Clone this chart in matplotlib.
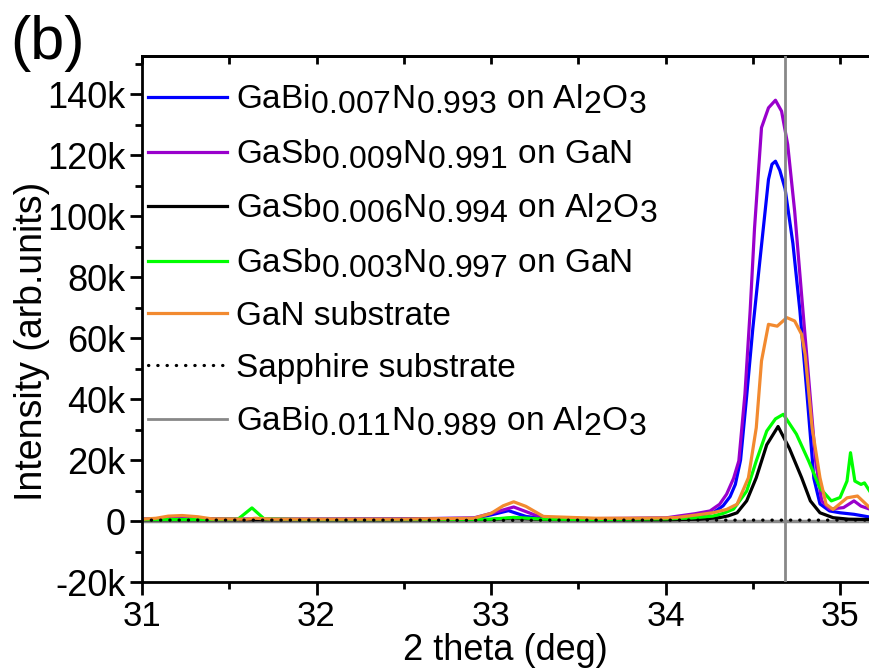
import matplotlib
matplotlib.use("Agg")
import matplotlib.pyplot as plt
import matplotlib._mathtext as mathtext_internal
from matplotlib.ticker import MultipleLocator, FuncFormatter

plt.rcParams['font.family'] = ['Liberation Sans', 'DejaVu Sans']
plt.rcParams['mathtext.fontset'] = 'custom'
plt.rcParams['mathtext.rm'] = 'Liberation Sans'
plt.rcParams['mathtext.it'] = 'Liberation Sans'
# subscripts in the original are nearly full size
mathtext_internal.SHRINK_FACTOR = 0.96

# --- data (2 theta in deg, intensity in k counts) ---
bi007_x = [31.0, 31.2, 31.6, 32.0, 32.5, 32.9, 33.0, 33.1, 33.2, 33.3, 33.6, 34.0,
           34.10, 34.20, 34.28, 34.33, 34.37, 34.40, 34.43, 34.465, 34.50, 34.54,
           34.59, 34.61, 34.63, 34.655, 34.685, 34.73, 34.77, 34.81, 34.85, 34.885,
           34.94, 35.0, 35.08, 35.17]
bi007_y = [0.6, 0.7, 0.6, 0.6, 0.7, 0.9, 2.0, 3.4, 1.5, 0.8, 0.7, 0.9,
           1.1, 1.8, 3.0, 5.0, 8.0, 12, 20, 41, 63, 85,
           112, 117, 118, 115, 109, 91, 69, 42, 14, 5.6,
           3.3, 2.7, 2.2, 1.3]

sb009_x = [31.0, 31.2, 31.6, 32.0, 32.5, 32.9, 33.0, 33.13, 33.25, 33.35, 33.6, 34.0,
           34.07, 34.17, 34.255, 34.31, 34.35, 34.39, 34.42, 34.455, 34.485, 34.51,
           34.55, 34.59, 34.63, 34.665, 34.70, 34.74, 34.78, 34.82, 34.86, 34.895,
           34.94, 35.02, 35.08, 35.12, 35.17]
sb009_y = [0.6, 0.8, 0.6, 0.6, 0.7, 1.0, 2.5, 4.6, 2.0, 0.9, 0.8, 1.0,
           1.6, 2.4, 3.3, 5.5, 8.8, 14, 19.7, 41.6, 69, 96,
           129, 135.5, 138, 134.4, 123.5, 101.6, 74, 47, 19.7, 6.6,
           3.9, 4.4, 6.6, 4.9, 3.9]

sb006_x = [31.0, 31.6, 32.0, 32.5, 33.0, 33.13, 33.3, 33.6, 34.0, 34.2, 34.31, 34.36,
           34.41, 34.465, 34.52, 34.58, 34.645, 34.71, 34.78, 34.83, 34.885, 34.96,
           35.05, 35.17]
sb006_y = [0.4, 0.4, 0.4, 0.4, 0.5, 1.0, 0.5, 0.4, 0.4, 0.6, 1.1, 1.7,
           2.7, 6.6, 14.2, 25, 31, 23.8, 14.2, 6.6, 2.7, 1.1,
           0.6, 0.5]

sb003_x = [31.0, 31.3, 31.55, 31.63, 31.70, 31.9, 32.5, 33.0, 33.13, 33.3, 33.6, 34.0,
           34.15, 34.27, 34.33, 34.39, 34.465, 34.52, 34.58, 34.63, 34.675, 34.75,
           34.82, 34.885, 34.95, 35.0, 35.04, 35.06, 35.085, 35.12, 35.14, 35.17]
sb003_y = [0.5, 0.5, 0.6, 4.3, 0.7, 0.5, 0.5, 0.6, 1.2, 0.6, 0.5, 0.7,
           1.0, 1.6, 2.5, 3.9, 9.8, 19.7, 29.5, 33.5, 35, 28.5,
           19.7, 10.8, 6.6, 7.7, 13.1, 22.4, 13.1, 12, 12.5, 9.8]

gan_x = [31.0, 31.08, 31.15, 31.23, 31.32, 31.40, 31.6, 31.65, 31.75, 32.0, 32.5, 32.9,
         33.0, 33.07, 33.13, 33.2, 33.3, 33.45, 33.6, 33.8, 34.0, 34.07, 34.18, 34.27,
         34.35, 34.41, 34.475, 34.52, 34.55, 34.59, 34.64, 34.695, 34.74, 34.78, 34.80,
         34.84, 34.885, 34.92, 34.96, 35.04, 35.10, 35.17]
gan_y = [0.6, 0.9, 1.6, 1.8, 1.4, 0.7, 0.6, 0.9, 0.6, 0.6, 0.6, 0.9,
         2.5, 5.0, 6.3, 4.8, 1.5, 1.2, 0.9, 0.9, 1.0, 1.2, 2.0, 2.7,
         3.8, 5.5, 14.2, 30.6, 52.5, 64.5, 63.9, 66.7, 65.6, 61.2, 54.6,
         30.6, 14.2, 5.5, 3.8, 7.6, 8.2, 4.4]

sapphire_x = [31.0, 31.5, 32.0, 32.5, 33.0, 33.5, 34.0, 34.5, 35.0, 35.17]
sapphire_y = [0.3, 0.3, 0.3, 0.3, 0.2, 0.3, 0.3, 0.3, 0.3, 0.3]

bi011_peak = 34.685   # grey reference sample, peak position (deg)

labels = [r'GaBi$_{0.007}$N$_{0.993}$ on Al$_2$O$_3$',
          r'GaSb$_{0.009}$N$_{0.991}$ on GaN',
          r'GaSb$_{0.006}$N$_{0.994}$ on Al$_2$O$_3$',
          r'GaSb$_{0.003}$N$_{0.997}$ on GaN',
          'GaN substrate',
          'Sapphire substrate',
          r'GaBi$_{0.011}$N$_{0.989}$ on Al$_2$O$_3$']

fig = plt.figure(figsize=(8.69, 6.68), dpi=100)
ax = fig.add_axes([142 / 869, 86 / 668, 727 / 869, 526 / 668])

lw = 2.3
ax.axhline(0, color='#888888', lw=2.5, zorder=1)
h_bi007, = ax.plot(bi007_x, [v * 1000 for v in bi007_y], color='#0000ff', lw=lw)
h_sb009, = ax.plot(sb009_x, [v * 1000 for v in sb009_y], color='#9900cc', lw=lw)
h_sb006, = ax.plot(sb006_x, [v * 1000 for v in sb006_y], color='black', lw=lw)
h_sb003, = ax.plot(sb003_x, [v * 1000 for v in sb003_y], color='#00ff00', lw=lw)
h_gan, = ax.plot(gan_x, [v * 1000 for v in gan_y], color='#f28a30', lw=lw)
h_sap, = ax.plot(sapphire_x, [v * 1000 for v in sapphire_y], color='black', lw=lw,
                 linestyle=(0, (0.1, 2.8)), dash_capstyle='round')
h_bi011 = ax.axvline(bi011_peak, color='#888888', lw=2.0, zorder=5)

ax.set_xlim(31, 35.166)
ax.set_ylim(-20000, 152500)

ax.xaxis.set_major_locator(MultipleLocator(1))
ax.xaxis.set_minor_locator(MultipleLocator(0.5))
ax.yaxis.set_major_locator(MultipleLocator(20000))
ax.yaxis.set_minor_locator(MultipleLocator(10000))
ax.yaxis.set_major_formatter(FuncFormatter(lambda v, p: '0' if v == 0 else f'{int(round(v / 1000))}k'))

ax.tick_params(which='major', direction='out', length=9, width=2)
ax.tick_params(which='minor', direction='out', length=5, width=2)
ax.tick_params(axis='y', labelsize=26, pad=3)
ax.tick_params(axis='x', labelsize=25, pad=4)
ax.spines['right'].set_visible(False)
for s in ['left', 'bottom', 'top']:
    ax.spines[s].set_linewidth(2)

top = ax.secondary_xaxis('top')
top.xaxis.set_major_locator(MultipleLocator(1))
top.xaxis.set_minor_locator(MultipleLocator(0.5))
top.tick_params(which='both', direction='in', length=6, width=2, labeltop=False)
top.spines['top'].set_linewidth(2)

ax.set_xlabel('2 theta (deg)', fontsize=26, labelpad=0)
ax.set_ylabel('Intensity (arb.units)', fontsize=27)
ax.yaxis.set_label_coords(-0.127, 0.458)

ax.legend([h_bi007, h_sb009, h_sb006, h_sb003, h_gan, h_sap, h_bi011], labels,
          loc='upper left', bbox_to_anchor=(6 / 727, 1 - 27 / 526), frameon=False,
          fontsize=24, handlelength=2.37, handletextpad=0.27, labelspacing=0.63,
          borderaxespad=0, borderpad=0)

fig.text(10 / 869, 1 - 15 / 668, '(b)', fontsize=44, va='top', ha='left')

fig.savefig('out.png', dpi=100)
